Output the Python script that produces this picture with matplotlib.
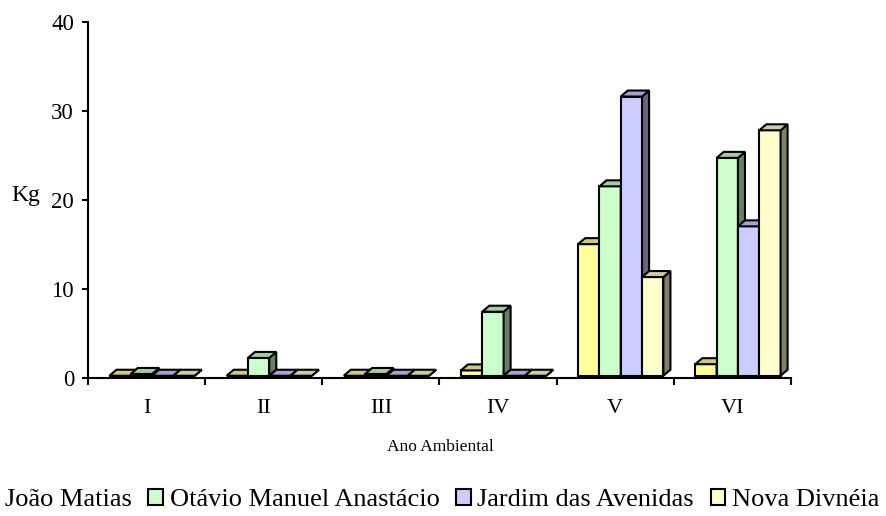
import matplotlib
matplotlib.use("Agg")
import matplotlib.pyplot as plt
from matplotlib.patches import Polygon, Patch
from matplotlib.colors import to_rgb

# Dados (kg) por ano ambiental e por escola
anos = ["I", "II", "III", "IV", "V", "VI"]
escolas = ["João Matias", "Otávio Manuel Anastácio", "Jardim das Avenidas", "Nova Divnéia"]
joao_matias = [0, 0, 0, 0.6, 14.8, 1.3]
otavio = [0.2, 2.0, 0.2, 7.2, 21.3, 24.5]
jardim = [0, 0, 0, 0, 31.4, 16.8]
nova_divneia = [0, 0, 0, 0, 11.1, 27.6]
series = [joao_matias, otavio, jardim, nova_divneia]
cores = ["#FFFF99", "#CCFFCC", "#CCCCFF", "#FFFFCC"]

plt.rcParams['font.family'] = ['Liberation Serif', 'DejaVu Serif']

fig = plt.figure(figsize=(8.87, 5.16), dpi=100)
ax = fig.add_axes([88 / 887, 138.3 / 516, 703 / 887, 355.7 / 516])

largura = 0.182   # largura de cada coluna
desloc = 0.047    # deslocamento do grupo
dx, dy = 0.06, 0.675  # profundidade 3D
piso = 0.22


def escurece(cor, f):
    r, g, b = to_rgb(cor)
    return (r * f, g * f, b * f)


z = 3
for i in range(len(anos)):
    x0 = i + 0.5 + desloc - 2 * largura
    for j, valores in enumerate(series):
        v = valores[i]
        x = x0 + j * largura
        topo = piso + v
        ax.bar(x, v, width=largura, bottom=piso, align='edge', color=cores[j],
               edgecolor='black', linewidth=1.5, zorder=z)
        lado = Polygon([(x + largura, piso), (x + largura + dx, piso + dy),
                        (x + largura + dx, topo + dy), (x + largura, topo)],
                       closed=True, facecolor=escurece(cores[j], 0.5),
                       edgecolor='black', linewidth=1.5, zorder=z)
        tampa = Polygon([(x, topo), (x + dx, topo + dy), (x + largura + dx, topo + dy),
                         (x + largura, topo)],
                        closed=True, facecolor=escurece(cores[j], 0.8),
                        edgecolor='black', linewidth=1.5, zorder=z)
        ax.add_patch(lado)
        ax.add_patch(tampa)
        z += 1

ax.set_xlim(0, 6)
ax.set_ylim(0, 40)
ax.spines['top'].set_visible(False)
ax.spines['right'].set_visible(False)
ax.spines['left'].set_linewidth(1.5)
ax.spines['bottom'].set_linewidth(1.5)

ax.set_yticks([0, 10, 20, 30, 40])
ax.tick_params(axis='y', length=4, width=1.5, pad=6, labelsize=16.5)
ax.set_xticks(range(7))
ax.set_xticklabels([])
ax.set_xticks([i + 0.5 for i in range(6)], minor=True)
ax.set_xticklabels(anos, minor=True)
ax.tick_params(axis='x', which='major', length=5, width=1.5)
ax.tick_params(axis='x', which='minor', length=0, pad=15, labelsize=16)

fig.text(26 / 887, 1 - 196 / 516, "Kg", fontsize=17, ha='center', va='center')
fig.text(440 / 887, 1 - 447 / 516, "Ano Ambiental", fontsize=12.5, ha='center', va='center')

alcas = [Patch(facecolor=c, edgecolor='black', linewidth=1.5) for c in cores]
fig.legend(alcas, escolas, loc='lower left', bbox_to_anchor=(-27 / 887, -6 / 516),
           ncol=4, frameon=False, fontsize=19, handlelength=0.55, handleheight=0.55,
           handletextpad=0.25, columnspacing=0.64, borderaxespad=0)

fig.savefig("out.png", dpi=100)
